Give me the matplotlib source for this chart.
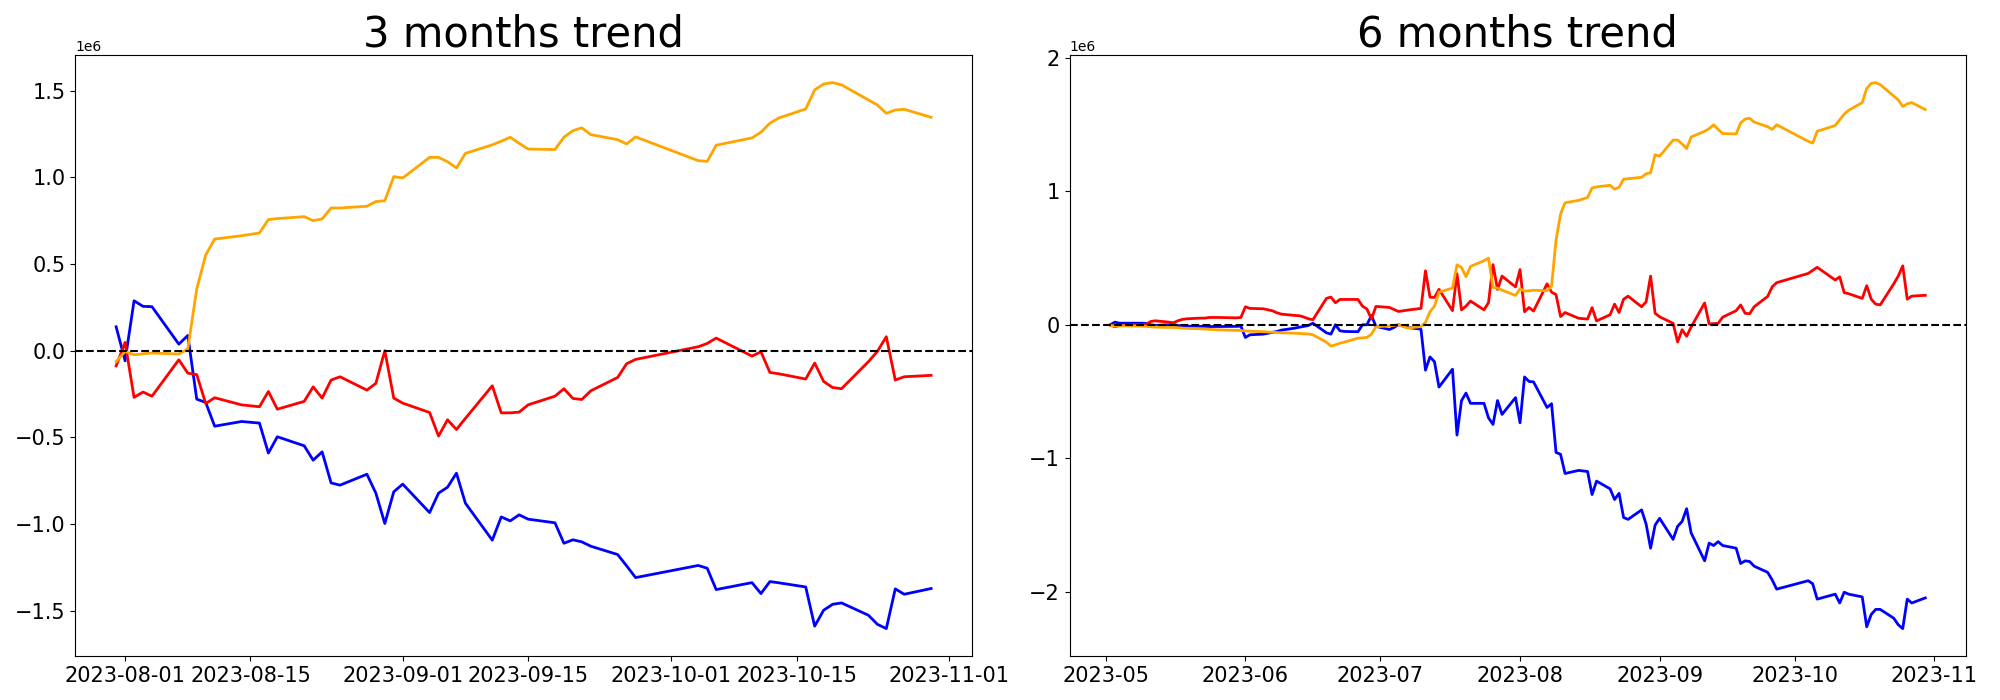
import pandas as pd
import matplotlib
matplotlib.use('Agg')
import matplotlib.pyplot as plt

# торговые дни (KRX), праздники исключены
holidays = ['2023-05-01', '2023-05-05', '2023-05-29', '2023-06-06', '2023-08-15',
            '2023-09-28', '2023-09-29', '2023-10-02', '2023-10-03', '2023-10-09']
dates_3m = pd.bdate_range('2023-07-31', '2023-10-30', freq='C', holidays=holidays)
dates_6m = pd.bdate_range('2023-05-02', '2023-10-30', freq='C', holidays=holidays)

# 3 месяца, млн
blue_3m = [0.138, -0.058, 0.288, 0.256, 0.254, 0.038, 0.088, -0.279, -0.298, -0.435,
           -0.408, -0.417, -0.590, -0.496, -0.548, -0.631, -0.583, -0.762, -0.775, -0.712,
           -0.821, -0.996, -0.813, -0.769, -0.933, -0.821, -0.787, -0.706, -0.879, -1.092,
           -0.958, -0.981, -0.946, -0.971, -0.992, -1.110, -1.090, -1.102, -1.127, -1.175,
           -1.240, -1.308, -1.238, -1.254, -1.377, -1.337, -1.400, -1.331, -1.338, -1.362,
           -1.588, -1.496, -1.462, -1.454, -1.525, -1.577, -1.602, -1.373, -1.404, -1.371]
red_3m = [-0.087, 0.048, -0.269, -0.238, -0.262, -0.052, -0.129, -0.138, -0.304, -0.271,
          -0.312, -0.323, -0.235, -0.337, -0.292, -0.208, -0.273, -0.169, -0.150, -0.227,
          -0.188, 0.0, -0.273, -0.302, -0.356, -0.492, -0.398, -0.454, -0.390, -0.202,
          -0.358, -0.358, -0.354, -0.312, -0.262, -0.219, -0.275, -0.281, -0.231, -0.154,
          -0.075, -0.050, 0.023, 0.042, 0.073, -0.031, -0.006, -0.125, -0.133, -0.163,
          -0.071, -0.177, -0.212, -0.219, -0.063, -0.004, 0.081, -0.169, -0.150, -0.142]
orange_3m = [-0.062, -0.004, -0.023, -0.018, -0.013, -0.019, 0.010, 0.356, 0.552, 0.644,
             0.663, 0.679, 0.756, 0.762, 0.773, 0.750, 0.760, 0.823, 0.823, 0.833,
             0.860, 0.865, 1.004, 0.996, 1.115, 1.115, 1.090, 1.054, 1.138, 1.187,
             1.208, 1.231, 1.196, 1.163, 1.160, 1.231, 1.269, 1.285, 1.246, 1.217,
             1.192, 1.233, 1.096, 1.092, 1.185, 1.227, 1.260, 1.312, 1.342, 1.394,
             1.504, 1.538, 1.546, 1.533, 1.446, 1.417, 1.369, 1.388, 1.392, 1.346]

# 6 месяцев, млн
blue_6m = [0.0, 0.02, 0.012, 0.012, 0.012, 0.01, 0.0, -0.005, 0.0, 0.002,
           -0.005, -0.01, -0.01, -0.012, -0.012, -0.013, -0.013, -0.013, -0.012, -0.01,
           -0.095, -0.075, -0.07, -0.057, -0.05, -0.04, -0.025, -0.018, -0.012, -0.005,
           0.012, -0.06, -0.07, 0.0, -0.045, -0.05, -0.052, 0.0, 0.0, 0.07,
           -0.012, -0.035, -0.02, 0.0, -0.008, -0.02, -0.033, -0.34, -0.241, -0.277,
           -0.467, -0.333, -0.827, -0.569, -0.512, -0.589, -0.589, -0.698, -0.747, -0.568,
           -0.672, -0.546, -0.735, -0.391, -0.425, -0.428, -0.62, -0.592, -0.957, -0.971,
           -1.115, -1.092, -1.100, -1.273, -1.172, -1.230, -1.310, -1.264, -1.445, -1.459,
           -1.388, -1.494, -1.675, -1.502, -1.451, -1.609, -1.511, -1.474, -1.379, -1.560,
           -1.770, -1.637, -1.655, -1.626, -1.655, -1.675, -1.790, -1.770, -1.775, -1.810,
           -1.856, -1.913, -1.982, -1.919, -1.942, -2.057, -2.020, -2.086, -2.005, -2.020,
           -2.040, -2.264, -2.172, -2.134, -2.134, -2.200, -2.249, -2.278, -2.057, -2.086,
           -2.048]
red_6m = [0.0, -0.015, -0.005, 0.0, 0.0, 0.005, 0.025, 0.03, 0.02, 0.015,
          0.03, 0.04, 0.045, 0.05, 0.05, 0.055, 0.055, 0.055, 0.052, 0.055,
          0.135, 0.123, 0.12, 0.105, 0.09, 0.08, 0.07, 0.068, 0.058, 0.045,
          0.038, 0.198, 0.208, 0.165, 0.19, 0.19, 0.19, 0.14, 0.118, 0.043,
          0.138, 0.13, 0.115, 0.10, 0.105, 0.11, 0.123, 0.405, 0.207, 0.205,
          0.266, 0.106, 0.383, 0.112, 0.14, 0.178, 0.112, 0.166, 0.451, 0.265,
          0.365, 0.284, 0.414, 0.098, 0.13, 0.103, 0.307, 0.245, 0.226, 0.062,
          0.092, 0.049, 0.043, 0.129, 0.029, 0.075, 0.155, 0.092, 0.192, 0.215,
          0.135, 0.172, 0.365, 0.086, 0.06, 0.011, -0.129, -0.037, -0.086, -0.017,
          0.164, 0.006, 0.009, 0.011, 0.057, 0.106, 0.149, 0.086, 0.083, 0.135,
          0.213, 0.284, 0.316, 0.385, 0.408, 0.431, 0.336, 0.359, 0.241, 0.233,
          0.198, 0.293, 0.192, 0.155, 0.149, 0.307, 0.365, 0.442, 0.192, 0.215,
          0.221]
orange_6m = [-0.005, -0.01, -0.008, -0.01, -0.01, -0.012, -0.015, -0.017, -0.02, -0.02,
             -0.022, -0.025, -0.027, -0.03, -0.032, -0.034, -0.036, -0.038, -0.042, -0.043,
             -0.046, -0.048, -0.052, -0.056, -0.058, -0.06, -0.063, -0.065, -0.067, -0.069,
             -0.075, -0.13, -0.16, -0.15, -0.138, -0.13, -0.10, -0.098, -0.095, -0.07,
             -0.015, -0.008, -0.004, 0.0, -0.012, -0.025, -0.013, 0.018, 0.098, 0.14,
             0.245, 0.275, 0.45, 0.43, 0.36, 0.438, 0.48, 0.50, 0.28, 0.275,
             0.26, 0.22, 0.27, 0.252, 0.255, 0.259, 0.255, 0.29, 0.635, 0.83,
             0.915, 0.933, 0.954, 1.026, 1.034, 1.046, 1.017, 1.031, 1.092, 1.095,
             1.106, 1.132, 1.141, 1.275, 1.264, 1.385, 1.385, 1.356, 1.321, 1.408,
             1.451, 1.471, 1.500, 1.465, 1.434, 1.431, 1.514, 1.543, 1.549, 1.520,
             1.485, 1.465, 1.500, 1.376, 1.362, 1.451, 1.494, 1.537, 1.580, 1.609,
             1.666, 1.772, 1.810, 1.816, 1.801, 1.715, 1.686, 1.637, 1.657, 1.666,
             1.614]

panels = [
    ('3 months trend', dates_3m, blue_3m, red_3m, orange_3m),
    ('6 months trend', dates_6m, blue_6m, red_6m, orange_6m),
]

fig, axes = plt.subplots(1, 2, figsize=(20, 7), dpi=100)
for ax, (title, dates, blue, red, orange) in zip(axes, panels):
    ax.plot(dates, [v * 1e6 for v in blue], color='blue', linewidth=2)
    ax.plot(dates, [v * 1e6 for v in red], color='red', linewidth=2)
    ax.plot(dates, [v * 1e6 for v in orange], color='orange', linewidth=2)
    ax.axhline(0, color='black', linestyle='--', linewidth=1.5)
    ax.set_title(title, fontsize=30)
    ax.tick_params(labelsize=15)

fig.subplots_adjust(left=0.0377, right=0.983, bottom=0.063, top=0.921, wspace=0.109)
plt.savefig('out.png')
